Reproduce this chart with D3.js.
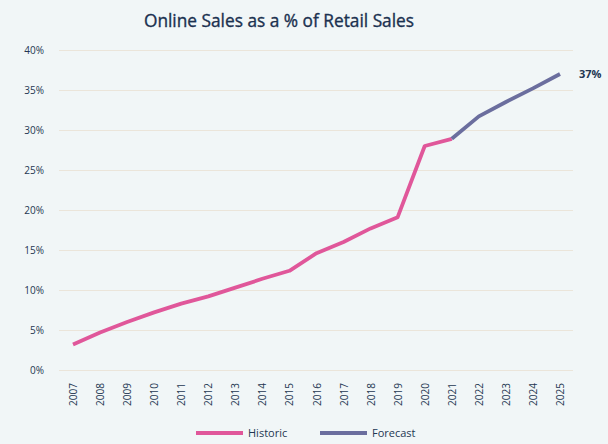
<!DOCTYPE html>
<html>
<head>
<meta charset="utf-8">
<script src="https://cdn.jsdelivr.net/npm/d3@7"></script>
<style>
  body { margin: 0; background: #f1f6f7; }
  text { font-family: "Open Sans", sans-serif; }
</style>
</head>
<body>
<div id="chart"></div>
<script>
// data
var years = ["2007","2008","2009","2010","2011","2012","2013","2014","2015","2016",
             "2017","2018","2019","2020","2021","2022","2023","2024","2025"]
var historic = [3.2, 4.7, 6.0, 7.2, 8.3, 9.2, 10.3, 11.4, 12.4, 14.6, 16.0, 17.7, 19.1, 28.0, 28.9]
var forecast = [28.9, 31.7, 33.5, 35.2, 37.0]
var yTicks = [0, 5, 10, 15, 20, 25, 30, 35, 40]

var width = 608
var height = 444
var margin = {top: 50, right: 35, bottom: 74, left: 59}

var svg = d3.select("#chart")
  .append("svg")
    .attr("width", width)
    .attr("height", height)

svg.append("rect")
  .attr("width", width)
  .attr("height", height)
  .attr("fill", "#f1f6f7")

var x = d3.scalePoint()
  .domain(years)
  .range([margin.left + 14, width - margin.right - 13])

var y = d3.scaleLinear()
  .domain([0, 40])
  .range([height - margin.bottom, margin.top])

// title
svg.append("text")
  .attr("x", 279)
  .attr("y", 27)
  .attr("text-anchor", "middle")
  .attr("font-size", "17.3px")
  .attr("fill", "#1b3150")
  .attr("stroke", "#1b3150")
  .attr("stroke-width", 0.35)
  .text("Online Sales as a % of Retail Sales")

// gridlines + y labels
var yAxis = d3.axisLeft(y)
  .tickValues(yTicks)
  .tickSize(-(width - margin.right - margin.left))
  .tickPadding(15)
  .tickFormat(function(d) { return d + "%"; })

var gy = svg.append("g")
  .attr("transform", "translate(" + margin.left + ",0)")
  .call(yAxis)
gy.select(".domain").remove()
gy.selectAll("line").attr("stroke", "#ebe5da").attr("stroke-width", 1.2)
gy.selectAll("text")
  .attr("font-size", "10px")
  .attr("fill", "#243652")

// x labels
var xAxis = d3.axisBottom(x).tickSize(0).tickPadding(0)
var gx = svg.append("g")
  .attr("transform", "translate(0," + (height - margin.bottom) + ")")
  .call(xAxis)
gx.select(".domain").remove()
gx.selectAll("text")
  .attr("font-size", "10px")
  .attr("fill", "#243652")
  .attr("text-anchor", "end")
  .attr("transform", "rotate(-90)")
  .attr("x", -13)
  .attr("y", 0)
  .attr("dy", "0.35em")

var line = d3.line()
  .x(function(d) { return x(d.year); })
  .y(function(d) { return y(d.value); })

var histData = historic.map(function(v, i) { return {year: years[i], value: v}; })
var foreData = forecast.map(function(v, i) { return {year: years[historic.length - 1 + i], value: v}; })

svg.append("path")
  .datum(histData)
  .attr("fill", "none")
  .attr("stroke", "#e0579a")
  .attr("stroke-width", 3.8)
  .attr("stroke-linejoin", "round")
  .attr("d", line)

svg.append("path")
  .datum(foreData)
  .attr("fill", "none")
  .attr("stroke", "#6b6e9e")
  .attr("stroke-width", 3.8)
  .attr("stroke-linejoin", "round")
  .attr("d", line)

// end label
var last = foreData[foreData.length - 1]
svg.append("text")
  .attr("x", x(last.year) + 19)
  .attr("y", y(last.value) + 4)
  .attr("font-size", "11px")
  .attr("font-weight", "bold")
  .attr("fill", "#243652")
  .text(Math.round(last.value) + "%")

// legend
var legend = [
  {name: "Historic", color: "#e0579a", x: 196},
  {name: "Forecast", color: "#6b6e9e", x: 320}
]
var lg = svg.selectAll(".legend")
  .data(legend)
  .enter().append("g")
    .attr("transform", function(d) { return "translate(" + d.x + ",433)"; })
lg.append("line")
  .attr("x1", 0).attr("x2", 47)
  .attr("stroke", function(d) { return d.color; })
  .attr("stroke-width", 3.8)
lg.append("text")
  .attr("x", 52)
  .attr("y", 4)
  .attr("font-size", "11px")
  .attr("fill", "#243652")
  .text(function(d) { return d.name; })
</script>
</body>
</html>
